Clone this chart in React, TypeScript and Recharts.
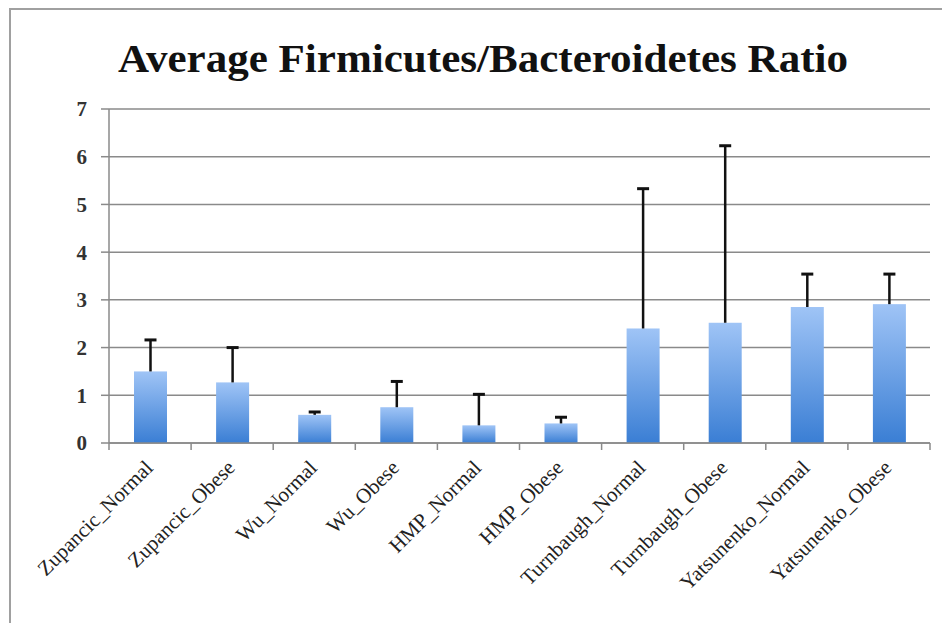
import React from 'react';
import {
  BarChart,
  Bar,
  XAxis,
  YAxis,
  CartesianGrid,
} from 'recharts';

const groups = [
  'Zupancic_Normal',
  'Zupancic_Obese',
  'Wu_Normal',
  'Wu_Obese',
  'HMP_Normal',
  'HMP_Obese',
  'Turnbaugh_Normal',
  'Turnbaugh_Obese',
  'Yatsunenko_Normal',
  'Yatsunenko_Obese',
];
const ratios = [1.5, 1.27, 0.59, 0.75, 0.37, 0.41, 2.4, 2.52, 2.85, 2.91];
// upper error only (sd above the mean)
const errorUp = [0.66, 0.73, 0.06, 0.54, 0.65, 0.13, 2.93, 3.71, 0.69, 0.63];
const yTicks = [0, 1, 2, 3, 4, 5, 6, 7];

const data = groups.map((name, i) => ({
  name,
  ratio: ratios[i],
  err: errorUp[i],
}));

const GRID = '#8a8a8a';
const FONT = "'Liberation Serif', 'DejaVu Serif', serif";

// label plus tick marks on the category boundaries (Excel style)
function SlantTick(props: any) {
  const { x, y, payload, axisY } = props;
  const half = payload.offset || 0;
  const isLast = payload.index === groups.length - 1;
  return (
    <g>
      <line x1={x - half} x2={x - half} y1={axisY} y2={axisY + 7} stroke={GRID} strokeWidth={1.5} />
      {isLast && (
        <line x1={x + half} x2={x + half} y1={axisY} y2={axisY + 7} stroke={GRID} strokeWidth={1.5} />
      )}
      <g transform={`translate(${x + 4},${y + 18})`}>
        <text
          textAnchor="end"
          transform="rotate(-45)"
          fontFamily={FONT}
          fontSize={21}
          fill="#222"
        >
          {payload.value}
        </text>
      </g>
    </g>
  );
}

// bar with a one-sided (upward) error whisker; scale taken from the bar itself
function BarWithError(props: any) {
  const { x, y, width, height, payload } = props;
  const pxPerUnit = payload.ratio ? height / payload.ratio : 0;
  const cx = x + width / 2;
  const top = y - payload.err * pxPerUnit;
  return (
    <g>
      <rect x={x} y={y} width={width} height={height} fill="url(#barFill)" />
      <line x1={cx} x2={cx} y1={y} y2={top} stroke="#111" strokeWidth={2.5} />
      <line x1={cx - 6} x2={cx + 6} y1={top} y2={top} stroke="#111" strokeWidth={3} />
    </g>
  );
}

export default function App() {
  return (
    <div style={{ position: 'relative', width: 942, height: 615, background: '#fff' }}>
      <div
        style={{
          position: 'absolute',
          left: 1,
          top: 0,
          width: 941,
          height: 615,
          borderTop: '2px solid #a0a0a0',
          borderLeft: '2px solid #a0a0a0',
          boxSizing: 'border-box',
        }}
      />
      <svg width={942} height={90} style={{ position: 'absolute', left: 0, top: 0 }}>
        <text
          x={475}
          y={64}
          textAnchor="middle"
          fontFamily={FONT}
          fontWeight="bold"
          fontSize={40}
          textLength={730}
          lengthAdjust="spacingAndGlyphs"
          fill="#111"
        >
          Average Firmicutes/Bacteroidetes Ratio
        </text>
      </svg>
      <div style={{ position: 'absolute', left: 0, top: 0 }}>
        <BarChart
          width={942}
          height={615}
          data={data}
          margin={{ top: 101, right: 20, bottom: 30, left: 61 }}
          barSize={33}
        >
          <defs>
            <linearGradient id="barFill" x1="0" y1="0" x2="0" y2="1">
              <stop offset="0%" stopColor="#9fc4f6" />
              <stop offset="100%" stopColor="#3a7ed4" />
            </linearGradient>
          </defs>
          <CartesianGrid vertical={false} stroke={GRID} strokeWidth={1.5} />
          <XAxis
            dataKey="name"
            interval={0}
            height={150}
            stroke={GRID}
            strokeWidth={1.5}
            tickLine={false}
            tick={<SlantTick axisY={435} />}
          />
          <YAxis
            domain={[0, 7]}
            ticks={yTicks}
            width={40}
            stroke={GRID}
            strokeWidth={1.5}
            tickSize={8}
            tickMargin={14}
            tick={{ fontFamily: FONT, fontSize: 21, fill: '#333', fontWeight: 600 }}
          />
          <Bar
            dataKey="ratio"
            fill="url(#barFill)"
            shape={<BarWithError />}
            isAnimationActive={false}
          />
        </BarChart>
      </div>
    </div>
  );
}
